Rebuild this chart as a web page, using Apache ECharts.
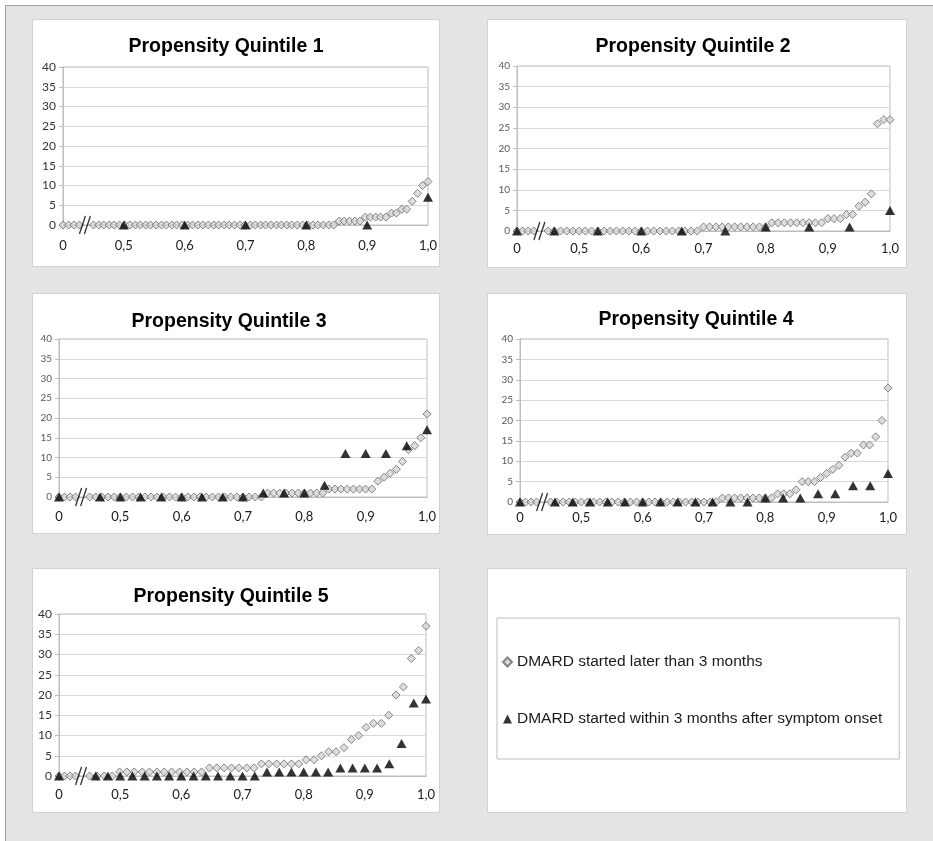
<!DOCTYPE html>
<html><head><meta charset="utf-8">
<script src="https://cdn.jsdelivr.net/npm/echarts@6/dist/echarts.min.js"></script>
<style>
html,body{margin:0;padding:0;background:#fff;}
#frame{position:absolute;left:5px;top:5px;width:928px;height:836px;background:#e4e4e4;border-top:1px solid #a0a0a0;border-left:1px solid #a0a0a0;}
.panel{position:absolute;background:#fff;border:1px solid #d2d2d2;box-sizing:border-box;}
#chart{position:absolute;left:0;top:0;width:933px;height:841px;}
</style></head><body>
<div id="frame"></div>
<div class="panel" style="left:32px;top:19px;width:408px;height:248px"></div>
<div class="panel" style="left:487px;top:19px;width:420px;height:249px"></div>
<div class="panel" style="left:32px;top:293px;width:408px;height:241px"></div>
<div class="panel" style="left:487px;top:293px;width:420px;height:242px"></div>
<div class="panel" style="left:32px;top:568px;width:408px;height:245px"></div>
<div class="panel" style="left:487px;top:568px;width:420px;height:245px"></div>
<div id="chart"></div>
<script>
// ---------------- DATA ----------------
const LATER = 'DMARD started later than 3 months';
const WITHIN = 'DMARD started within 3 months after symptom onset';
const titles = ['Propensity Quintile 1','Propensity Quintile 2','Propensity Quintile 3','Propensity Quintile 4','Propensity Quintile 5'];
const yTicks = [0,5,10,15,20,25,30,35,40];
const xTickLabels = ['0','0,5','0,6','0,7','0,8','0,9','1,0'];
const axisBreakX = 0.036;   // position of the "//" break mark (raw x)

// Quintile 1
const q1LaterX = [0,0.009,0.018,0.027,
 0.450,0.459,0.467,0.476,0.484,0.493,0.502,0.510,0.519,0.527,
 0.536,0.544,0.553,0.562,0.570,0.579,0.587,0.596,0.605,0.613,
 0.622,0.630,0.639,0.648,0.656,0.665,0.673,0.682,0.691,0.699,
 0.708,0.716,0.725,0.733,0.742,0.751,0.759,0.768,0.776,0.785,
 0.794,0.802,0.811,0.819,0.828,0.837,0.845,0.854,0.862,0.871,
 0.880,0.888,0.897,0.905,0.914,0.922,0.931,0.940,0.948,0.957,
 0.965,0.974,0.983,0.991,1.000];
const q1LaterY = [0,0,0,0,
 0,0,0,0,0,0,0,0,0,0,
 0,0,0,0,0,0,0,0,0,0,
 0,0,0,0,0,0,0,0,0,0,
 0,0,0,0,0,0,0,0,0,0,
 0,0,0,0,0,0,0,1,1,1,
 1,1,2,2,2,2,2,3,3,4,
 4,6,8,10,11];
const q1WithinX = [0.5,0.6,0.7,0.8,0.9,1.0];
const q1WithinY = [0,0,0,0,0,7];

// shared x grid for quintiles 2-4 (diamonds)
const grid01X = [0,0.009,0.018,0.027,
 0.45,0.46,0.47,0.48,0.49,0.50,0.51,0.52,0.53,0.54,
 0.55,0.56,0.57,0.58,0.59,0.60,0.61,0.62,0.63,0.64,
 0.65,0.66,0.67,0.68,0.69,0.70,0.71,0.72,0.73,0.74,
 0.75,0.76,0.77,0.78,0.79,0.80,0.81,0.82,0.83,0.84,
 0.85,0.86,0.87,0.88,0.89,0.90,0.91,0.92,0.93,0.94,
 0.95,0.96,0.97,0.98,0.99,1.00];

// Quintile 2
const q2LaterY = [0,0,0,0,
 0,0,0,0,0,0,0,0,0,0,
 0,0,0,0,0,0,0,0,0,0,
 0,0,0,0,0,1,1,1,1,1,
 1,1,1,1,1,1,2,2,2,2,
 2,2,2,2,2,3,3,3,4,4,
 6,7,9,26,27,27];
const q2WithinX = [0,0.46,0.53,0.60,0.665,0.735,0.80,0.87,0.935,1.0];
const q2WithinY = [0,0,0,0,0,0,1,1,1,5];

// Quintile 3
const q3LaterY = [0,0,0,0,
 0,0,0,0,0,0,0,0,0,0,
 0,0,0,0,0,0,0,0,0,0,
 0,0,0,0,0,0,0,0,0,1,
 1,1,1,1,1,1,1,1,1,2,
 2,2,2,2,2,2,2,4,5,6,
 7,9,12,13,15,21];
const q3WithinX = [0,0.467,0.5,0.533,0.567,0.6,0.633,0.667,0.7,0.733,0.767,0.8,0.833,0.867,0.9,0.933,0.967,1.0];
const q3WithinY = [0,0,0,0,0,0,0,0,0,1,1,1,3,11,11,11,13,17];

// Quintile 4
const q4LaterY = [0,0,0,0,
 0,0,0,0,0,0,0,0,0,0,
 0,0,0,0,0,0,0,0,0,0,
 0,0,0,0,0,0,0,0,1,1,
 1,1,1,1,1,1,1,2,2,2,
 3,5,5,5,6,7,8,9,11,12,
 12,14,14,16,20,28];
const q4WithinX = [0,0.457,0.486,0.514,0.543,0.571,0.6,0.629,0.657,0.686,0.714,0.743,0.771,0.8,0.829,0.857,0.886,0.914,0.943,0.971,1.0];
const q4WithinY = [0,0,0,0,0,0,0,0,0,0,0,0,0,1,1,1,2,2,4,4,7];

// Quintile 5
const q5LaterX = [0,0.009,0.018,0.027,
 0.450,0.462,0.474,0.487,0.499,0.511,0.523,0.536,0.548,0.560,
 0.572,0.584,0.597,0.609,0.621,0.633,0.646,0.658,0.670,0.682,
 0.694,0.707,0.719,0.731,0.743,0.756,0.768,0.780,0.792,0.804,
 0.817,0.829,0.841,0.853,0.866,0.878,0.890,0.902,0.914,0.927,
 0.939,0.951,0.963,0.976,0.988,1.000];
const q5LaterY = [0,0,0,0,
 0,0,0,0,1,1,1,1,1,1,
 1,1,1,1,1,1,2,2,2,2,
 2,2,2,3,3,3,3,3,3,4,
 4,5,6,6,7,9,10,12,13,13,
 15,20,22,29,31,37];
const q5WithinX = [0,0.46,0.48,0.50,0.52,0.54,0.56,0.58,0.60,0.62,0.64,0.66,0.68,0.70,0.72,0.74,0.76,0.78,0.80,0.82,0.84,0.86,0.88,0.90,0.92,0.94,0.96,0.98,1.00];
const q5WithinY = [0,0,0,0,0,0,0,0,0,0,0,0,0,0,0,1,1,1,1,1,1,2,2,2,2,3,8,18,19];

// ---------------- CHART ----------------
const BREAK_SHIFT = 0.4; // the broken axis: values near 0 are drawn just left of 0,5
function toAxis(x){ return x < 0.2 ? BREAK_SHIFT + x : x; }
function pts(xs, ys){ return xs.map((x,i)=>[toAxis(x), ys[i]]); }

const panels = [
  {laterX:q1LaterX, laterY:q1LaterY, withinX:q1WithinX, withinY:q1WithinY},
  {laterX:grid01X, laterY:q2LaterY, withinX:q2WithinX, withinY:q2WithinY},
  {laterX:grid01X, laterY:q3LaterY, withinX:q3WithinX, withinY:q3WithinY},
  {laterX:grid01X, laterY:q4LaterY, withinX:q4WithinX, withinY:q4WithinY},
  {laterX:q5LaterX, laterY:q5LaterY, withinX:q5WithinX, withinY:q5WithinY}
];
const layout = [
  {left:63, top:67, width:365, height:158, tx:221, ty:32, xm:14, yFont:12, yCol:'#333'},
  {left:517, top:66, width:373, height:165, tx:688, ty:32, xm:11, yFont:10, yCol:'#595959'},
  {left:59, top:339, width:368, height:158, tx:224, ty:307, xm:13, yFont:10, yCol:'#595959'},
  {left:520, top:339, width:368, height:163, tx:691, ty:305, xm:9, yFont:10, yCol:'#595959'},
  {left:59, top:614, width:367, height:162, tx:226, ty:582, xm:12, yFont:12, yCol:'#333'}
];
const TICK_FONT = 'Lato, "Liberation Sans", sans-serif';

const option = {
  animation:false,
  backgroundColor:'transparent',
  title: layout.map((l,i)=>({text:titles[i], left:l.tx, top:l.ty, textAlign:'center',
    textStyle:{fontFamily:'"Liberation Sans", Arial, sans-serif', fontWeight:'bold', fontSize:19.5, color:'#000'}})),
  grid: layout.map(l=>({left:l.left, top:l.top, width:l.width, height:l.height, show:true, borderColor:'#bdbdbd', borderWidth:1, backgroundColor:'transparent'})),
  xAxis: layout.map((l,i)=>({type:'value', gridIndex:i, min:0.4, max:1.0, interval:0.1,
    axisLine:{show:true, onZero:false, lineStyle:{color:'#bdbdbd'}}, axisTick:{show:false}, splitLine:{show:false},
    axisLabel:{margin:l.xm, fontFamily:TICK_FONT, fontSize:13, color:'#1a1a1a',
      formatter:v=>{ const k = Math.round((v-0.4)*10); return xTickLabels[k] !== undefined ? xTickLabels[k] : ''; }}})),
  yAxis: layout.map((l,i)=>({type:'value', gridIndex:i, min:yTicks[0], max:yTicks[yTicks.length-1], interval:yTicks[1]-yTicks[0],
    axisLine:{show:true, lineStyle:{color:'#bdbdbd'}}, axisTick:{show:true, length:4, lineStyle:{color:'#bdbdbd'}},
    splitLine:{show:true, lineStyle:{color:'#d9d9d9'}},
    axisLabel:{margin:7, fontFamily:TICK_FONT, fontSize:l.yFont, color:l.yCol}})),
  legend:{orient:'vertical', left:497, top:618, data:[LATER, WITHIN], itemGap:41, itemWidth:9, itemHeight:9,
    padding:[36,17,32,5], borderColor:'#bdbdbd', borderWidth:1, selectedMode:false,
    textStyle:{fontFamily:'"Liberation Sans", Arial, sans-serif', fontSize:15.5, color:'#1a1a1a'}},
  series: []
};
panels.forEach((p,i)=>{
  option.series.push({type:'scatter', name:LATER, xAxisIndex:i, yAxisIndex:i, clip:false, z:3,
    data:pts(p.laterX,p.laterY), symbol:'diamond', symbolSize:[8,8],
    itemStyle:{color:'#d4d4d4', borderColor:'#6a6a6a', borderWidth:1}});
  option.series.push({type:'scatter', name:WITHIN, xAxisIndex:i, yAxisIndex:i, clip:false, z:4,
    data:pts(p.withinX,p.withinY), symbol:'triangle', symbolSize:[10,9],
    itemStyle:{color:'#000'}});
  option.series.push({type:'scatter', name:'axis break', xAxisIndex:i, yAxisIndex:i, clip:false, z:5, silent:true,
    data:[[toAxis(axisBreakX), 0]], symbol:'path://M0,20L6,0M5,20L11,0', symbolSize:[11,18],
    itemStyle:{color:'transparent', borderColor:'#000', borderWidth:1.6}});
});
const chart = echarts.init(document.getElementById('chart'), null, {renderer:'canvas'});
chart.setOption(option);
</script>
</body></html>
